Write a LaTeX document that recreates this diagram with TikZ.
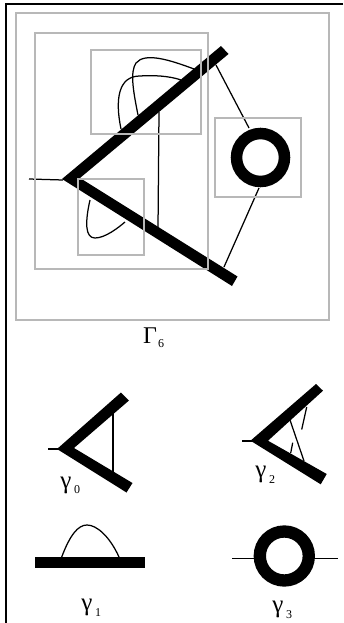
\documentclass[tikz,border=0pt]{standalone}
\usepackage{fontspec}
\setmainfont{Liberation Serif}
\begin{document}
\begin{tikzpicture}[x=1pt,y=-1pt,
  frame/.style={draw=black!28,line width=1.3pt},
  thinline/.style={draw=black,line width=1.25pt},
  bar/.style={fill=black,draw=none},
  sym/.style={font=\fontsize{24}{24}\selectfont,inner sep=0pt,anchor=center},
  lab/.style={font=\fontsize{25}{25}\selectfont,inner sep=0pt,anchor=center},
  subs/.style={font=\fontsize{12}{12}\selectfont,inner sep=0pt,anchor=center}]
\useasboundingbox (0,0) rectangle (343,623);
\fill[white] (0,0) rectangle (343,623);
% page rule
\draw[black,line width=2.6pt] (343,4) -- (6,4) -- (6,623);
% main graph
\draw[thinline] (29,179) -- (63,180);
\draw[thinline] (121,129) .. controls (115,100) and (118,76) .. (140,76) .. controls (153,75) and (170,76) .. (181,80);
\draw[thinline] (138,115) .. controls (133,90) and (130,72) .. (136,63) .. controls (145,52) and (170,60) .. (194,69);
\draw[thinline] (90,200) .. controls (85,222) and (85,238) .. (95,238) .. controls (105,238) and (118,228) .. (125,222);
\draw[thinline] (159,112) -- (158,229);
\draw[thinline] (216,65) -- (249,128);
\draw[thinline] (259,188) -- (224,267);
\fill[bar] (62,179) -- (221,46) -- (228.5,54) -- (80,178) -- (237.5,276.5) -- (232,286) -- cycle;
\draw[black,line width=11.5pt] (260.5,157.5) circle (24);
% frames
\draw[frame] (16,13) rectangle (329,320);
\draw[frame] (35,33) rectangle (208,269);
\draw[frame] (91,50) rectangle (201,134);
\draw[frame] (78,179) rectangle (144,255);
\draw[frame] (215,118) rectangle (301,197);
\node[sym] (g6) at (150,336) {Γ};
\node[subs] (g6s) at (161,344) {6};
% gamma 0
\draw[thinline] (48,449) -- (60,449);
\draw[thinline] (113,413) -- (113,472);
\fill[bar] (57,449) -- (121,392.5) -- (129,400.5) -- (74,448) -- (132.5,483) -- (126.5,492.5) -- cycle;
\node[lab] (g0) at (66,485) {γ};
\node[subs] (g0s) at (77,490) {0};
% gamma 2
\draw[thinline] (242,441) -- (254,441);
\draw[thinline] (290,420) -- (304,461);
\draw[thinline] (306.7,407) -- (301.7,429.5);
\draw[thinline] (292.7,442.7) -- (290.7,453);
\fill[bar] (250.5,440.7) -- (316,384) -- (323,390.7) -- (268,440.7) -- (326.7,474) -- (320.7,484.3) -- cycle;
\node[lab] (g2) at (261,474) {γ};
\node[subs] (g2s) at (272,480) {2};
% gamma 1
\draw[thinline] (61.7,557) .. controls (70,535) and (78,525) .. (87,525) .. controls (97,525) and (110,537) .. (119,557);
\fill[bar] (35,556.7) rectangle (145,568.3);
\node[lab] (g1) at (87,607) {γ};
\node[subs] (g1s) at (98,613) {1};
% gamma 3
\draw[thinline] (232,558.5) -- (256,558.5);
\draw[thinline] (313,558.5) -- (338,558.5);
\draw[black,line width=12.3pt] (284.3,556) circle (24.5);
\node[lab] (g3) at (278,609) {γ};
\node[subs] (g3s) at (289,615) {3};
\end{tikzpicture}
\end{document}
